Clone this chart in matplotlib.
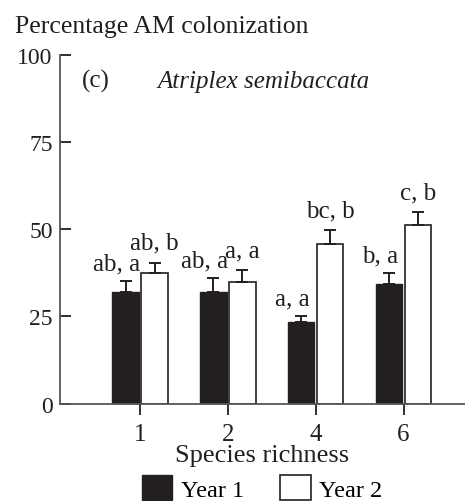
import numpy as np
import matplotlib
matplotlib.use('Agg')
import matplotlib.pyplot as plt
from matplotlib.patches import Patch

plt.rcParams['font.family'] = ['Liberation Serif', 'DejaVu Serif']

# ── data ──────────────────────────────────────────────────────────────────
richness = ['1', '2', '4', '6']
year1 = [32.0, 32.0, 23.4, 34.2]
year1_err = [3.1, 4.0, 1.7, 3.2]
year2 = [37.4, 34.9, 45.6, 51.3]
year2_err = [3.0, 3.3, 4.1, 3.5]
year1_letters = ['ab, a', 'ab, a', 'a, a', 'b, a']
year2_letters = ['ab, b', 'a, a', 'bc, b', 'c, b']
yticks = [0, 25, 50, 75, 100]

INK = '#231f20'

fig = plt.figure(figsize=(4.65, 5.02), dpi=100)
ax = fig.add_axes([0.128, 0.194, 0.872, 0.6954])

x = np.arange(len(richness))
w = 0.30
off = 0.165
ax.bar(x - off, year1, w, color=INK, edgecolor=INK, linewidth=1.0)
ax.bar(x + off, year2, w, color='white', edgecolor=INK, linewidth=1.2)
ax.errorbar(x - off, year1, yerr=[np.zeros(4), year1_err], fmt='none',
            ecolor=INK, elinewidth=1.4, capsize=4.3, capthick=1.4)
ax.errorbar(x + off, year2, yerr=[np.zeros(4), year2_err], fmt='none',
            ecolor=INK, elinewidth=1.4, capsize=4.3, capthick=1.4)

# significance letters above each bar
for xi, v, e, s in zip(x - off, year1, year1_err, year1_letters):
    ax.text(xi - 0.1, v + e + 3.3, s, ha='center', va='baseline',
            fontsize=18, color=INK)
for xi, v, e, s in zip(x + off, year2, year2_err, year2_letters):
    ax.text(xi, v + e + 4.0, s, ha='center', va='baseline',
            fontsize=18, color=INK)

ax.set_xlim(-0.917, 3.70)
ax.set_ylim(0, 100)
ax.set_xticks(x)
ax.set_xticklabels(richness)
ax.set_yticks(yticks)
ax.spines['top'].set_visible(False)
ax.spines['right'].set_visible(False)
for s in ('left', 'bottom'):
    ax.spines[s].set_color('#555555')
    ax.spines[s].set_linewidth(1.3)
ax.tick_params(axis='y', direction='in', length=8, width=1.3, pad=5,
               labelsize=17, colors=INK)
ax.tick_params(axis='x', direction='out', length=8, width=1.3, pad=6,
               labelsize=18, colors=INK)
ax.set_xlabel('Species richness', fontsize=19, color=INK, labelpad=-1)

fig.text(82 / 465, 1 - 88 / 502, '(c)', fontsize=18, color=INK)
fig.text(157 / 465, 1 - 88 / 502, 'Atriplex semibaccata', fontsize=18,
         style='italic', color=INK)
fig.text(15 / 465, 1 - 33 / 502, 'Percentage AM colonization', fontsize=18.5,
         color=INK)

handles = [Patch(facecolor=INK, edgecolor=INK, label='Year 1'),
           Patch(facecolor='white', edgecolor=INK, linewidth=1.2, label='Year 2')]
fig.legend(handles=handles, loc='center', bbox_to_anchor=(0.564, 0.026),
           ncol=2, frameon=False, fontsize=17.5, handlelength=1.24,
           handleheight=1.16, handletextpad=0.35, columnspacing=1.5,
           borderpad=0, borderaxespad=0)

fig.savefig('out.png', dpi=100)
